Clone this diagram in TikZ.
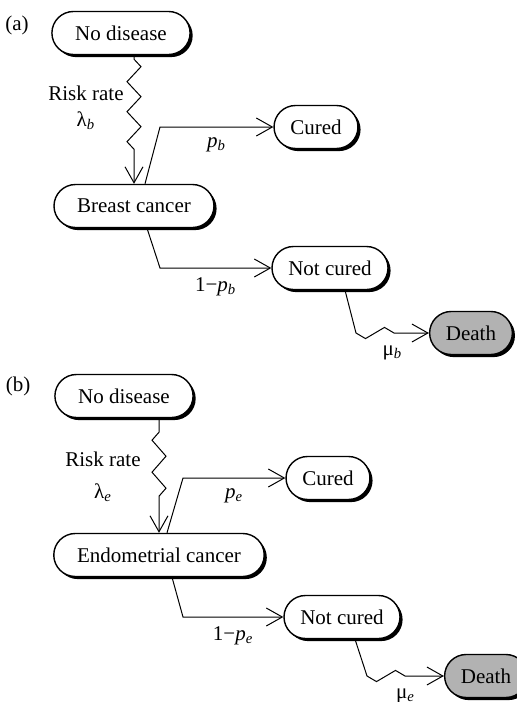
\documentclass[tikz,border=0pt]{standalone}
\usepackage{fontspec}
\setmainfont{Liberation Serif}
\usetikzlibrary{arrows.meta,shapes.misc,shadows,decorations.pathmorphing}

\newcommand{\idx}[1]{\textsubscript{\itshape #1}}

\begin{document}
\begin{tikzpicture}[
  x=0.5pt, y=-0.5pt,
  >={Straight Barb[length=8pt,width=9pt]},
  font=\fontsize{10.5}{12.6}\selectfont,
  state/.style={rounded rectangle, draw, line width=0.7pt, fill=white,
    inner xsep=11pt, minimum height=21.5pt,
    drop shadow={shadow xshift=1.3pt, shadow yshift=-1.3pt, fill=black, opacity=1}},
  outcome/.style={state, inner xsep=7.5pt},
  absorb/.style={outcome, fill=black!30},
  flow/.style={->, line width=0.5pt},
  risk/.style={flow, decorate, decoration={zigzag, segment length=15pt,
    amplitude=3.5pt, pre length=2pt, post length=14pt}},
  dying/.style={decoration={zigzag, mirror, segment length=19pt,
    amplitude=2.8pt, pre length=0pt, post length=17pt}},
  lab/.style={inner sep=2pt, align=center},
  tag/.style={inner sep=0pt}
]

\clip (0,0) rectangle (517,702);

% (a) breast cancer
\node[tag] (tag_a) at (17,25) {(a)};
\node[state] (nd_a) at (121,33) {No disease};
\node[state] (bc_a) at (134,206) {Breast cancer};
\node[outcome] (cu_a) at (316,127) {Cured};
\node[outcome] (nc_a) at (330,268) {Not cured};
\node[absorb] (de_a) at (471,333) {Death};

\draw[risk] (nd_a.south -| bc_a.north) -- (bc_a.north);
\node[lab] (rr_a) at (86,108) {Risk rate\\λ\idx{b}};

\draw[flow] ([xshift=5.5pt]bc_a.north) -- ([xshift=13pt]bc_a.north |- cu_a.west)
  -- node[midway, below=3pt, lab] (pb_a) {\textit{p}\idx{b}} (cu_a.west);
\draw[flow] ([xshift=6.5pt]bc_a.south) -- ([xshift=13pt]bc_a.south |- nc_a.west)
  -- node[midway, below=2.5pt, lab] (qb_a) {1−\textit{p}\idx{b}} (nc_a.west);

\draw[flow] ([xshift=7.5pt]nc_a.south) -- ([xshift=13pt]nc_a.south |- de_a.west)
  decorate[dying] {-- (de_a.west)};
\path ([xshift=13pt]nc_a.south |- de_a.west) -- (de_a.west)
  node[midway, below=4pt, lab] (mb_a) {μ\idx{b}};

% (b) endometrial cancer
\node[tag] (tag_b) at (18,386) {(b)};
\node[state] (nd_b) at (124,396) {No disease};
\node[state] (ec_b) at (159,555) {Endometrial cancer};
\node[outcome] (cu_b) at (328,478) {Cured};
\node[outcome] (nc_b) at (342,617) {Not cured};
\node[absorb] (de_b) at (486,676) {Death};

\draw[risk, decoration={mirror, segment length=16pt, pre length=7pt, post length=16pt}]
  (nd_b.south -| ec_b.north) -- (ec_b.north);
\node[lab] (rr_b) at (103,477) {Risk rate\\[3pt]λ\idx{e}};

\draw[flow] ([xshift=4pt]ec_b.north) -- ([xshift=12pt]ec_b.north |- cu_b.west)
  -- node[midway, below=3pt, lab] (pe_b) {\textit{p}\idx{e}} (cu_b.west);
\draw[flow] ([xshift=6.5pt]ec_b.south) -- ([xshift=12pt]ec_b.south |- nc_b.west)
  -- node[midway, below=2.5pt, lab] (qe_b) {1−\textit{p}\idx{e}} (nc_b.west);

\draw[flow] ([xshift=6.5pt]nc_b.south) -- ([xshift=12.5pt]nc_b.south |- de_b.west)
  decorate[dying] {-- (de_b.west)};
\path ([xshift=12.5pt]nc_b.south |- de_b.west) -- (de_b.west)
  node[midway, below=4pt, lab] (me_b) {μ\idx{e}};

\end{tikzpicture}
\end{document}
